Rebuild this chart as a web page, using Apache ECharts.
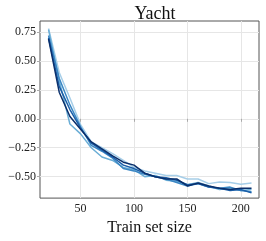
<!DOCTYPE html>
<html><head><meta charset="utf-8">
<script src="https://cdn.jsdelivr.net/npm/echarts@6/dist/echarts.min.js"></script>
<style>html,body{margin:0;padding:0;background:#fff}#c{width:266px;height:241px}</style>
</head><body><div id="c"></div>
<script>
const trainSizes = [20,30,40,50,60,70,80,90,100,110,120,130,140,150,160,170,180,190,200,210];
const run1 = [0.78,0.40,0.18,-0.05,-0.20,-0.25,-0.30,-0.36,-0.42,-0.45,-0.47,-0.49,-0.49,-0.52,-0.52,-0.56,-0.545,-0.55,-0.565,-0.555];
const run2 = [0.77,0.33,-0.045,-0.13,-0.25,-0.33,-0.36,-0.42,-0.44,-0.50,-0.49,-0.53,-0.54,-0.57,-0.55,-0.58,-0.61,-0.60,-0.62,-0.61];
const run3 = [0.72,0.35,0.12,-0.07,-0.23,-0.28,-0.34,-0.43,-0.45,-0.48,-0.50,-0.52,-0.55,-0.58,-0.56,-0.59,-0.60,-0.59,-0.62,-0.63];
const run4 = [0.70,0.28,0.08,-0.08,-0.21,-0.27,-0.33,-0.40,-0.43,-0.47,-0.50,-0.51,-0.53,-0.57,-0.56,-0.59,-0.60,-0.62,-0.61,-0.64];
const run5 = [0.69,0.23,0.02,-0.09,-0.20,-0.26,-0.32,-0.375,-0.40,-0.47,-0.50,-0.52,-0.52,-0.58,-0.555,-0.58,-0.60,-0.61,-0.60,-0.60];
const runs = [run1, run2, run3, run4, run5];
const colors = ['#a6cee8','#6baed6','#3b87c4','#1a5ea8','#0a2f6b'];
const xTicks = [50,100,150,200];
const yTicks = [-0.5,-0.25,0,0.25,0.5,0.75];
const font = '"Liberation Serif","DejaVu Serif",serif';
const chart = echarts.init(document.getElementById('c'));
chart.setOption({
  animation:false,
  title:{text:'Yacht',left:150,top:0,textAlign:'center',textStyle:{fontFamily:font,fontSize:18,fontWeight:'normal',color:'#111'}},
  grid:{left:40,right:7,top:21,bottom:38,show:true,borderColor:'#555',borderWidth:1},
  xAxis:{type:'value',min:12,max:217,
    name:'Train set size',nameLocation:'middle',nameGap:16,
    nameTextStyle:{fontFamily:font,fontSize:16,color:'#111'},
    axisLine:{show:false},axisTick:{show:true,length:3,customValues:xTicks,lineStyle:{color:'#aaa'}},
    axisLabel:{fontFamily:font,fontSize:12,color:'#222',margin:5,customValues:xTicks},
    splitLine:{show:true,lineStyle:{color:'#e6e6e6'}}},
  yAxis:{type:'value',min:-0.685,max:0.845,
    axisLine:{show:false},axisTick:{show:true,length:3,customValues:yTicks,lineStyle:{color:'#aaa'}},
    axisLabel:{fontFamily:font,fontSize:12,color:'#222',margin:4,customValues:yTicks,
      formatter:v=>(v<0?'\u2212':'')+Math.abs(v).toFixed(2)},
    splitLine:{show:true,lineStyle:{color:'#e6e6e6'}}},
  series: runs.map((r,i)=>({type:'line',data:trainSizes.map((x,j)=>[x,r[j]]),showSymbol:false,
    lineStyle:{width:1.5,color:colors[i]},itemStyle:{color:colors[i]}}))
});
</script></body></html>
